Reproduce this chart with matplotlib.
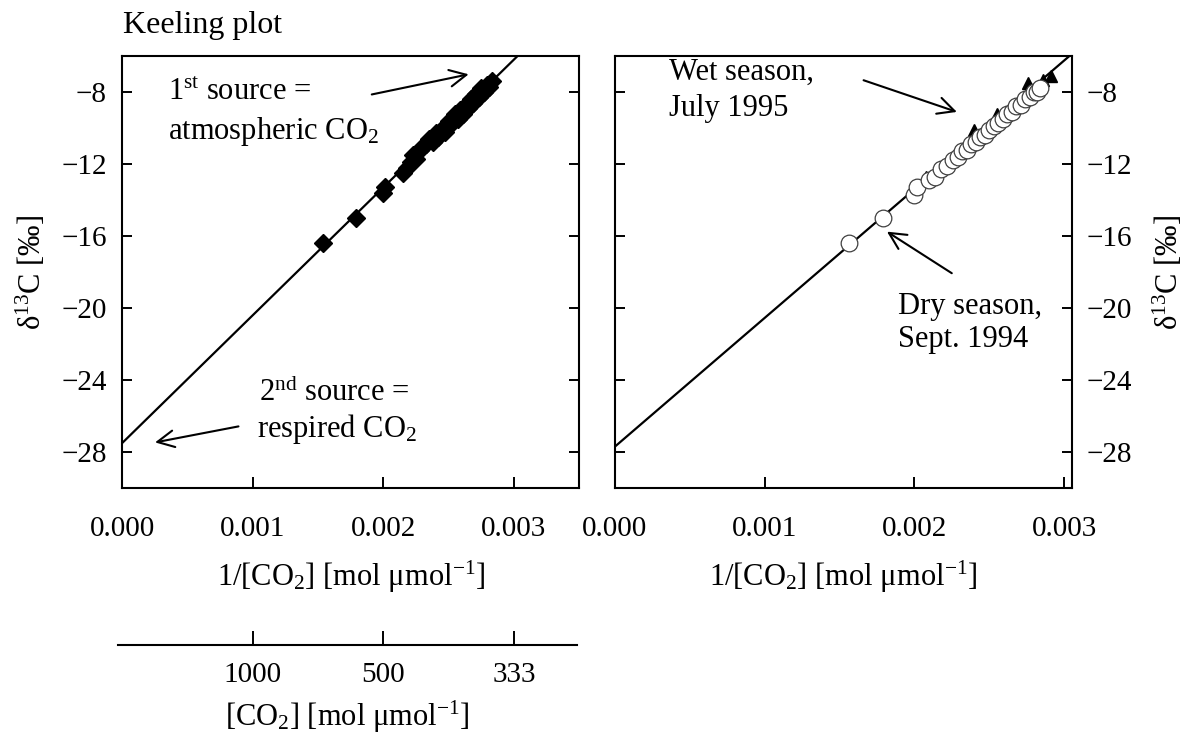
import numpy as np
import matplotlib
matplotlib.use("Agg")
import matplotlib.pyplot as plt

plt.rcParams['font.family'] = ['Liberation Serif', 'DejaVu Serif']
plt.rcParams['mathtext.fontset'] = 'custom'
plt.rcParams['mathtext.rm'] = 'Liberation Serif'
plt.rcParams['mathtext.it'] = 'Liberation Serif:italic'
plt.rcParams['mathtext.default'] = 'regular'
FS = 22       # labels and annotations
TFS = 21      # tick labels

# ── data: x = 1/[CO2] (mol/umol), y = d13C (permil) ──────────────────────────
all_x = [1.54, 1.79, 2.00, 2.01, 2.15, 2.18, 2.21, 2.23, 2.25, 2.28, 2.30, 2.33,
         2.35, 2.38, 2.40, 2.42, 2.44, 2.47, 2.50, 2.52, 2.55, 2.57, 2.59, 2.61,
         2.63, 2.65, 2.67, 2.69, 2.71, 2.73, 2.75, 2.77, 2.79, 2.81, 2.83]
all_y = [-16.4, -15.0, -13.6, -13.3, -12.5, -12.2, -11.9, -11.5, -11.7, -11.2,
         -11.0, -10.9, -10.6, -10.8, -10.3, -10.5, -10.1, -10.2, -9.6, -9.8,
         -9.2, -9.5, -9.0, -9.2, -8.7, -8.9, -8.4, -8.6, -8.1, -8.3, -7.8,
         -8.0, -7.6, -7.7, -7.4]

dry_x = [1.56, 1.79, 2.00, 2.02, 2.10, 2.14, 2.18, 2.22, 2.26, 2.29, 2.32, 2.35,
         2.38, 2.41, 2.44, 2.47, 2.50, 2.53, 2.56, 2.59, 2.62, 2.65, 2.68, 2.71,
         2.74, 2.77, 2.80, 2.82, 2.84]
dry_y = [-16.4, -15.0, -13.7, -13.3, -12.9, -12.7, -12.3, -12.1, -11.8, -11.6,
         -11.3, -11.2, -10.9, -10.8, -10.5, -10.4, -10.1, -9.9, -9.7, -9.5,
         -9.2, -9.1, -8.8, -8.7, -8.4, -8.3, -8.0, -8.0, -7.8]

wet_x = [2.08, 2.40, 2.55, 2.76, 2.86, 2.91]
wet_y = [-12.7, -10.1, -9.2, -7.5, -7.35, -7.1]

# Keeling regression lines (intercept = source signature)
left_icpt, left_slope = -27.5, 7100.0
right_icpt, right_slope = -27.7, 7150.0

y_ticks = [-8, -12, -16, -20, -24, -28]
x_ticks = [0.0, 0.001, 0.002, 0.003]
conc_ticks = [1000, 500, 333]

all_x = np.array(all_x) * 1e-3
dry_x = np.array(dry_x) * 1e-3
wet_x = np.array(wet_x) * 1e-3

fig = plt.figure(figsize=(11.87, 7.38), dpi=100)
ax1 = fig.add_axes([0.1030, 0.3388, 0.3850, 0.5854])
ax2 = fig.add_axes([0.5181, 0.3388, 0.3848, 0.5854])
ax3 = fig.add_axes([0.0994, 0.1260, 0.3867, 0.001])

ylab = 'δ$^{13}$C [‰]'
xlab = '1/[CO$_2$] [mol μmol$^{-1}$]'


def style(ax, xmax, right_labels):
    ax.set_xlim(0, xmax)
    ax.set_ylim(-30, -6)
    ax.set_yticks(y_ticks)
    ax.set_xticks(x_ticks)
    ax.set_xticklabels([f"{v:.3f}" for v in x_ticks])
    for s in ax.spines.values():
        s.set_linewidth(1.5)
    ax.tick_params(axis='y', direction='in', length=7, width=1.4,
                   left=True, right=True, labelsize=TFS, pad=11,
                   labelleft=not right_labels, labelright=right_labels)
    ax.tick_params(axis='x', direction='in', length=8, width=1.4,
                   top=False, labelsize=TFS, pad=20)
    ax.set_xlabel(xlab, fontsize=FS, labelpad=12)
    if right_labels:
        ax.yaxis.set_label_position('right')
        ax.set_ylabel(ylab, fontsize=FS, labelpad=14, rotation=90)
    else:
        ax.set_ylabel(ylab, fontsize=FS, labelpad=10)


arrow = dict(arrowstyle='->,head_length=0.6,head_width=0.3', lw=1.5,
             color='k', shrinkA=0, shrinkB=0, mutation_scale=20)

# left: all samples
xs = np.array([0, 0.0036])
ax1.plot(xs, left_icpt + left_slope * xs, color='k', lw=1.6, zorder=2)
ax1.plot(all_x, all_y, 'D', color='k', ms=9, zorder=3)
style(ax1, 0.0035, False)
ax1.text(0.352e-3, -8.46, '1$^{st}$ source =', fontsize=FS, va='baseline')
ax1.text(0.352e-3, -10.62, 'atmospheric CO$_2$', fontsize=FS, va='baseline')
ax1.text(1.048e-3, -25.19, '2$^{nd}$ source =', fontsize=FS, va='baseline')
ax1.text(1.033e-3, -27.19, 'respired CO$_2$', fontsize=FS, va='baseline')
ax1.annotate('', xy=(2.653e-3, -7.02), xytext=(1.911e-3, -8.14), arrowprops=arrow)
ax1.annotate('', xy=(0.251e-3, -27.47), xytext=(0.890e-3, -26.58), arrowprops=arrow)

# right: wet vs dry season
ax2.plot(xs, right_icpt + right_slope * xs, color='k', lw=1.6, zorder=2)
ax2.plot(wet_x, wet_y, '^', color='k', ms=8, zorder=3)
ax2.plot(dry_x, dry_y, 'o', mfc='white', mec='0.25', mew=0.9, ms=12, zorder=4)
style(ax2, 0.00305, True)
ax2.text(0.364e-3, -7.30, 'Wet season,', fontsize=FS, va='baseline')
ax2.text(0.364e-3, -9.35, 'July 1995', fontsize=FS, va='baseline')
ax2.text(1.891e-3, -20.33, 'Dry season,', fontsize=FS, va='baseline')
ax2.text(1.891e-3, -22.16, 'Sept. 1994', fontsize=FS, va='baseline')
ax2.annotate('', xy=(2.283e-3, -9.11), xytext=(1.66e-3, -7.35), arrowprops=arrow)
ax2.annotate('', xy=(1.816e-3, -15.76), xytext=(2.249e-3, -18.07), arrowprops=arrow)

# concentration scale under the left panel
ax3.set_xlim(-3.3e-5, 3.487e-3)
ax3.set_ylim(0, 1)
for side in ['left', 'right', 'top']:
    ax3.spines[side].set_visible(False)
ax3.spines['bottom'].set_linewidth(1.5)
ax3.set_yticks([])
ax3.set_xticks([1.0 / c for c in conc_ticks])
ax3.set_xticklabels([str(c) for c in conc_ticks])
ax3.tick_params(axis='x', direction='in', length=10, width=1.4,
                labelsize=TFS, pad=12)
ax3.set_xlabel('[CO$_2$] [mol μmol$^{-1}$]', fontsize=FS, labelpad=8)
ax3.patch.set_visible(False)

fig.text(0.1036, 1 - 33 / 738, 'Keeling plot', fontsize=23, va='baseline')

fig.savefig('out.png', dpi=100)
